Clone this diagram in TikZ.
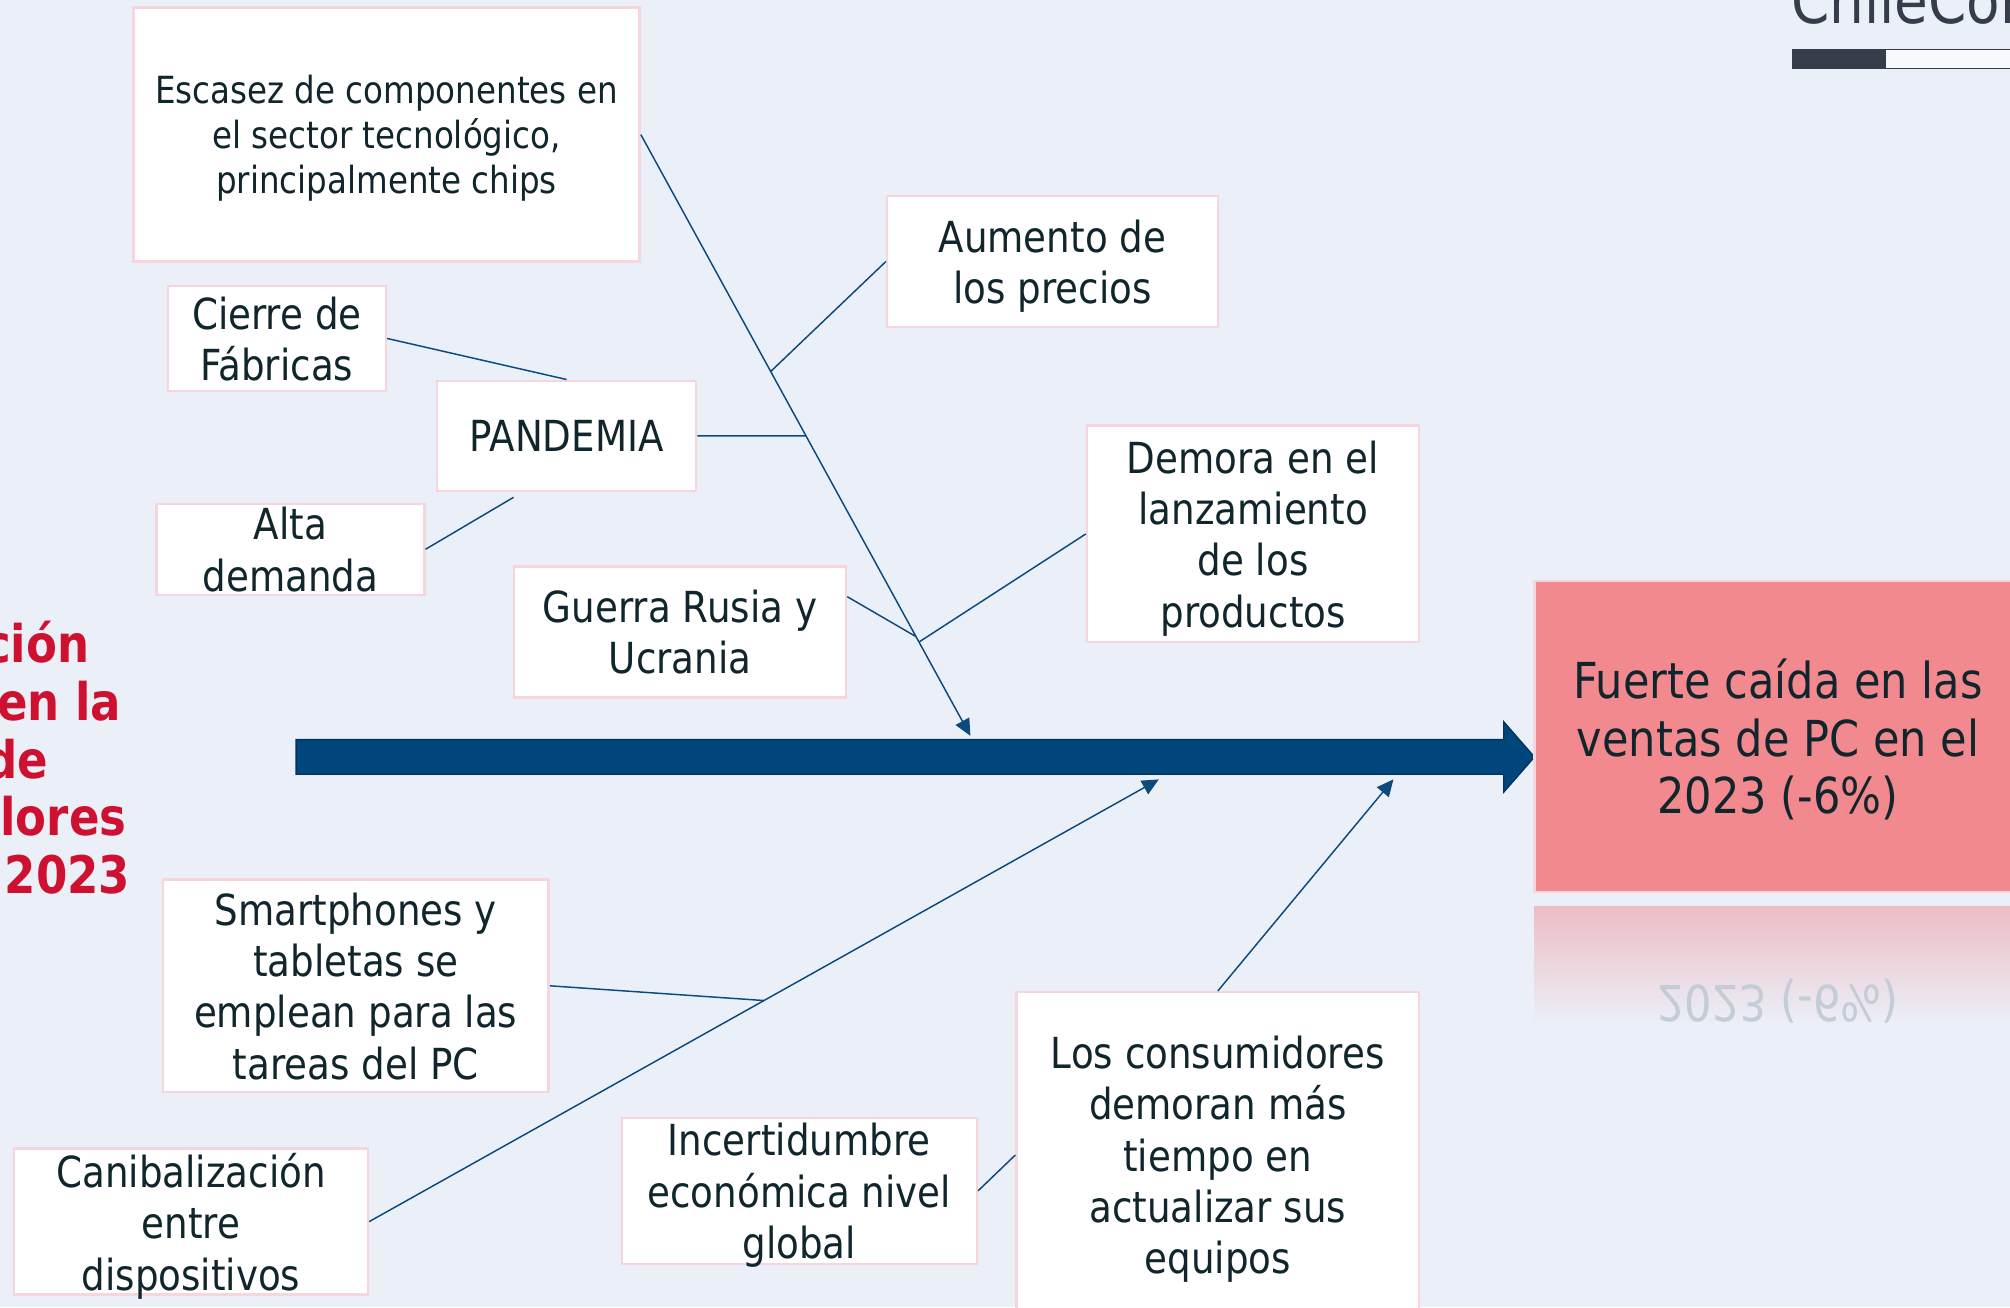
\documentclass[tikz,border=0pt]{standalone}
\usepackage{fontspec}
\setmainfont{DejaVu Sans}[FakeStretch=0.87]
\usetikzlibrary{arrows.meta,calc}
\definecolor{bg}{HTML}{EBF0F8}
\definecolor{boxb}{HTML}{F7D5DD}
\definecolor{txt}{HTML}{10262C}
\definecolor{navy}{HTML}{00467A}
\definecolor{navyd}{HTML}{003460}
\definecolor{lnc}{HTML}{0B4A7D}
\definecolor{pinkf}{HTML}{F2898E}
\definecolor{redt}{HTML}{CF1131}
\definecolor{grayt}{HTML}{353D4A}
\definecolor{reflc}{HTML}{EDBDC5}
\definecolor{reflt}{HTML}{C4CCD6}
\begin{document}
\begin{tikzpicture}[x=0.02cm,y=-0.02cm,
  box/.style={draw=boxb,fill=white,line width=1.1pt,align=center,inner sep=0pt,text depth=0pt,text=txt,font=\fontsize{19}{22.8}\selectfont},
  conn/.style={draw=lnc,line width=0.65pt},
  tipend/.style={-{Triangle[length=0.26cm,width=0.24cm]}},
  redtitle/.style={text=redt,anchor=base east,inner sep=0pt,font=\bfseries\fontsize{23}{27}\selectfont}]
\useasboundingbox (0,0) rectangle (1568,1019.6);
\clip (0,0) rectangle (1568,1019.6);
\fill[bg] (0,0) rectangle (1568,1019.6);

% top-right logo fragment
\node[anchor=base west,inner sep=0pt,text=grayt,font=\fontsize{28}{30}\selectfont] (logo) at (1397,18) {ChileCompra};
\fill[grayt] (1398,38) rectangle (1471,54);
\draw[grayt,fill=white!60!bg,line width=0.6pt] (1471,38.5) rectangle (1580,53.5);

% red title fragments
\node[redtitle] (t1) at (70,517) {ción};
\node[redtitle] (t2) at (95,562) {en la};
\node[redtitle] (t3) at (38,607) {de};
\node[redtitle] (t4) at (99,652) {lores};
\node[redtitle] (t5) at (102,697) {2023};

% main spine arrow
\filldraw[fill=navy,draw=navyd,line width=0.6pt] (231,577) -- (1173,577) -- (1173,563) -- (1197,590.5) -- (1173,618) -- (1173,604) -- (231,604) -- cycle;

% reflection of effect box
\shade[top color=reflc,bottom color=bg] (1197,707) rectangle (1580,800);
\node[yscale=-1,text=reflt,inner sep=0pt,font=\fontsize{22}{26.5}\selectfont] (refl) at (1387,781) {2023 (-6\%)};

% boxes
\node[box,minimum width=7.9cm,minimum height=3.96cm,font=\fontsize{16.6}{19.9}\selectfont] (esc) at (301.5,105) {Escasez de componentes en\\el sector tecnológico,\\principalmente chips};
\node[box,minimum width=3.4cm,minimum height=1.64cm] (cie) at (216,264) {Cierre de\\Fábricas};
\node[box,minimum width=4.04cm,minimum height=1.72cm] (pand) at (442,340) {PANDEMIA};
\node[box,minimum width=4.18cm,minimum height=1.42cm] (alta) at (226.5,428.5) {Alta\\demanda};
\node[box,minimum width=5.16cm,minimum height=2.04cm] (aum) at (821,204) {Aumento de\\los precios};
\node[box,minimum width=5.18cm,minimum height=3.38cm] (dem) at (977.5,416.5) {Demora en el\\lanzamiento\\de los\\productos};
\node[box,minimum width=5.18cm,minimum height=2.04cm] (guer) at (530.5,493) {Guerra Rusia y\\Ucrania};
\node[box,fill=pinkf,minimum width=7.6cm,minimum height=4.86cm,font=\fontsize{22}{25.6}\selectfont] (fuer) at (1387,574.5) {Fuerte caída en las\\ventas de PC en el\\2023 (-6\%)};
\node[box,minimum width=6.02cm,minimum height=3.32cm] (smart) at (277.5,769) {Smartphones y\\tabletas se\\emplean para las\\tareas del PC};
\node[box,minimum width=5.52cm,minimum height=2.28cm] (can) at (149,953) {Canibalización\\entre\\dispositivos};
\node[box,minimum width=5.54cm,minimum height=2.28cm] (inc) at (623.5,929) {Incertidumbre\\económica nivel\\global};
\node[box,minimum width=6.28cm,minimum height=5.08cm] (cons) at (950,901) {Los consumidores\\demoran más\\tiempo en\\actualizar sus\\equipos};

% arrow tips above / below the spine
\coordinate (tipA) at (757,574);
\coordinate (tipB) at (904,608);
\coordinate (tipC) at (1087,608);

% connectors
\draw[conn,tipend] (esc.east) -- (tipA);
\draw[conn] (aum.west) -- ($(esc.east)!0.394!(tipA)$);
\draw[conn] (pand.east) -- ($(esc.east)!0.501!(tipA)$);
\draw[conn] (cie.east) -- (pand.north);
\draw[conn] (alta.east) -- ($(pand.south west)!0.297!(pand.south east)+(0,4)$);
\draw[conn] ($(guer.north east)!0.235!(guer.south east)$) -- ($(esc.east)!0.835!(tipA)$);
\draw[conn] (dem.west) -- ($(esc.east)!0.844!(tipA)$);
\draw[conn,tipend] (can.east) -- (tipB);
\draw[conn] (smart.east) -- ($(can.east)!0.5!(tipB)$);
\draw[conn,tipend] (cons.north) -- (tipC);
\draw[conn] (inc.east) -- (cons.west);
\end{tikzpicture}
\end{document}
